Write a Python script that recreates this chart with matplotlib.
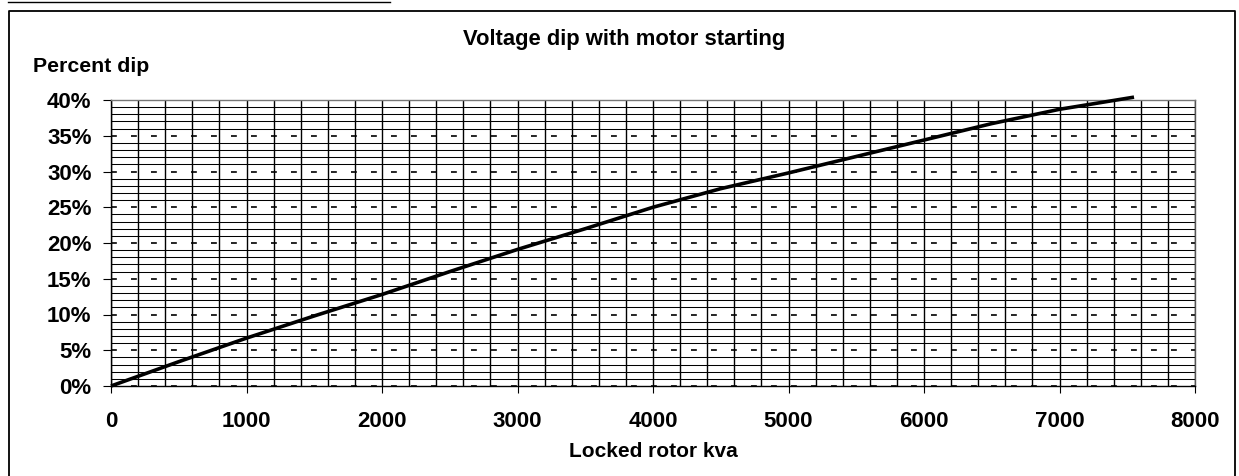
import matplotlib
matplotlib.use('Agg')
from matplotlib import pyplot as plt
from matplotlib.lines import Line2D

# values
kva = [0, 500, 1000, 1500, 2000, 2500, 3000, 3500, 4000, 4500,
       5000, 5500, 6000, 6500, 7000, 7550]
dip = [0, 3.4, 6.7, 9.8, 12.8, 16.0, 19.1, 22.0, 25.0, 27.6,
       29.8, 32.1, 34.4, 36.7, 38.7, 40.4]

x_ticks = [0, 1000, 2000, 3000, 4000, 5000, 6000, 7000, 8000]
y_ticks = [0, 5, 10, 15, 20, 25, 30, 35, 40]
y_labels = ['0%', '5%', '10%', '15%', '20%', '25%', '30%', '35%', '40%']

plt.rcParams['font.family'] = ['Liberation Sans', 'DejaVu Sans']
plt.rcParams['font.weight'] = 'bold'

fig = plt.figure(figsize=(12.39, 4.76), dpi=100)
ax = fig.add_axes([111 / 1239, 1 - 386 / 476, (1195 - 111) / 1239, (386 - 100) / 476])

# grid: thin solid every 200 kva and every 1 %, dashed at the 5 % lines
ax.set_xticks(x_ticks)
ax.set_xticks(range(0, 8001, 200), minor=True)
ax.set_yticks(y_ticks)
ax.set_yticklabels(y_labels)
ax.set_yticks(range(0, 41), minor=True)
ax.grid(True, axis='x', which='both', color='black', linewidth=1.0)
ax.grid(True, axis='y', which='minor', color='black', linewidth=0.75)
ax.grid(True, axis='y', which='major', color='black', linewidth=1.2,
        linestyle=(0, (3.5, 8.5)))
ax.set_axisbelow(True)

ax.plot(kva, dip, color='black', linewidth=2.6, solid_capstyle='butt',
        zorder=3, clip_on=False)

ax.set_xlim(0, 8000)
ax.set_ylim(0, 40)

ax.tick_params(axis='y', which='major', length=6, width=0.8, direction='out',
               labelsize=16, pad=8)
ax.tick_params(axis='x', which='major', length=5, width=0.8, direction='out',
               labelsize=16, pad=13)
ax.tick_params(which='minor', length=0)
for s in ax.spines.values():
    s.set_color('black')
    s.set_linewidth(1.0)
ax.spines['top'].set_color('#777777')
ax.spines['right'].set_color('#555555')

ax.set_xlabel('Locked rotor kva', fontsize=15, fontweight='bold', labelpad=7)
fig.text(624 / 1239, 1 - 40 / 476, 'Voltage dip with motor starting',
         ha='center', va='center', fontsize=15.8, fontweight='bold')
fig.text(33 / 1239, 1 - 67 / 476, 'Percent dip', ha='left', va='center',
         fontsize=15.3, fontweight='bold')

# border of the scanned figure
fx0, fx1, fy1 = 9 / 1239, 1235 / 1239, 1 - 11 / 476
fig.add_artist(Line2D([fx0, fx0, fx1, fx1], [0, fy1, fy1, 0],
                      transform=fig.transFigure, color='black', linewidth=1.3))
fig.add_artist(Line2D([8 / 1239, 390 / 1239], [1 - 1.5 / 476, 1 - 1.5 / 476],
                      transform=fig.transFigure, color='black', linewidth=1.0))

fig.savefig('out.png', dpi=100)
